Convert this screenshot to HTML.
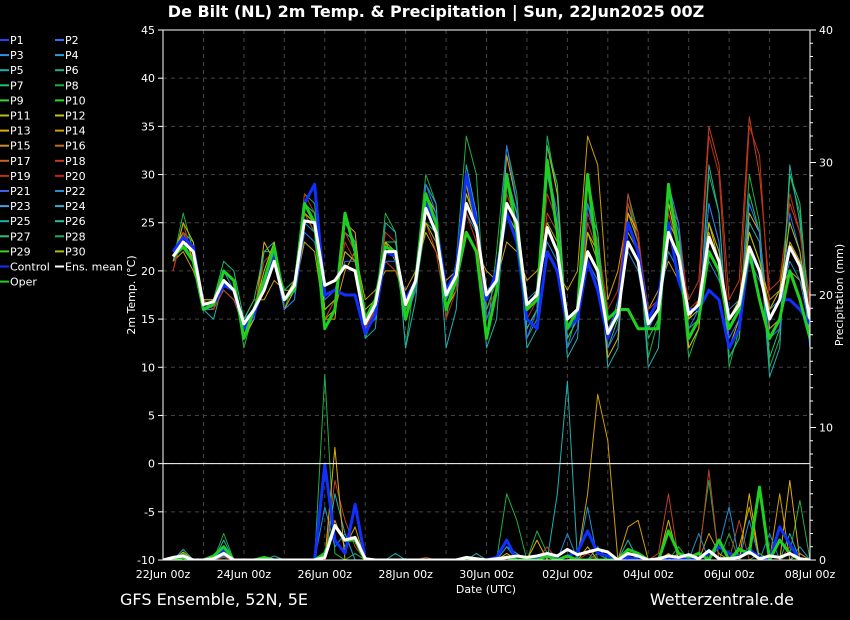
<!DOCTYPE html>
<html><head><meta charset="utf-8"><style>
html,body{margin:0;padding:0;background:#000;}
svg{display:block;font-family:"DejaVu Sans","Liberation Sans",sans-serif;}
</style></head><body>
<svg id="chart" width="850" height="620" viewBox="0 0 850 620">
<text x="436" y="17" fill="#fff" font-size="16" font-weight="bold" text-anchor="middle">De Bilt  (NL)  2m Temp. &amp; Precipitation | Sun, 22Jun2025 00Z</text>
<text x="120" y="605" fill="#fff" font-size="16">GFS Ensemble, 52N, 5E</text>
<text x="794" y="605" fill="#fff" font-size="16" text-anchor="end">Wetterzentrale.de</text>
<text x="486" y="593" fill="#fff" font-size="11" text-anchor="middle">Date (UTC)</text>
<text transform="translate(135,295) rotate(-90)" fill="#fff" font-size="11" text-anchor="middle">2m Temp. (°C)</text>
<text transform="translate(843,295) rotate(-90)" fill="#fff" font-size="11" text-anchor="middle">Precipitation (mm)</text>
<defs><clipPath id="pc"><rect x="163" y="30" width="647" height="530"/></clipPath></defs>
<g id="grid"></g>
<g id="series" clip-path="url(#pc)"></g>
<g id="axes"></g>
<g id="legend"></g>
</svg>
<script>
const dayLabels=["22Jun 00z","24Jun 00z","26Jun 00z","28Jun 00z","30Jun 00z","02Jul 00z","04Jul 00z","06Jul 00z","08Jul 00z"];
const tempTicks=[45,40,35,30,25,20,15,10,5,0,-5,-10];
const precTicks=[40,30,20,10,0];
const legendNames=["P1","P2","P3","P4","P5","P6","P7","P8","P9","P10","P11","P12","P13","P14","P15","P16","P17","P18","P19","P20","P21","P22","P23","P24","P25","P26","P27","P28","P29","P30","Control","Ens. mean","Oper"];
const legendColors=["#2040ff","#3070ff","#3090e0","#2aa0d0","#20b0b0","#20b090","#20c070","#20b040","#40d040","#20e020","#c0c000","#d0c000","#e0b000","#d0a000","#d09020","#c07010","#d06020","#c04020","#c03010","#c02020","#4060e0","#2090d0","#40a0e0","#30b0d0","#20b0b0","#20c0a0","#30c070","#20b050","#40d020","#b0c000","#1030ff","#ffffff","#20d020"];
const memberColors=["#20b040","#d0a000","#20b0b0","#c04020","#2090d0","#e0b000","#c03010","#20c070","#3070ff","#b0c000"];
const meanT=[null,21.5,23,22,16.5,16.8,19,18,14.5,16,18,21,17,18.5,25.2,25,18.5,19,20.5,20,14.5,16.5,22,22,16.5,19,26.5,24,17.5,19.5,27,24.5,17.5,19,27,25,16.5,17.5,24.5,22,15,16,22,20,13.5,15.5,23,21,14.5,16,24,21.5,15.5,16.5,23.5,21,15,16.5,22.5,20,15,17,22.5,20.5,15];
const ctrlT=[null,22,23.5,22.5,16,16.5,18.5,18,14,15.5,18.5,22,17,18,27,29,17.5,18,17.5,17.5,13.5,15.5,22,21.5,17,19,27,25,18,20,30,25,17,20,26,23,15,14,22,20,14,15,21,18,13,16,25,22,15,17,25,19,16,16,18,17,12,14,22,20,15,17,17,16,14.5];
const operT=[null,21.5,22.5,21,16,16.5,20,19,13,16,19,22.5,17,18,27,25,14,16,26,22,15,17,22.5,22,15,19,28,25,16,19,24,22,13,18,30,24,16,17,31.5,24,14,16,30,21,15,16,16,14,14,14,29,22,13,15,22,20,14,16,22,17,13,15,20,17,13];
const memA=[null,21,26,22,16,17,20,19,12,16,20,23,16,19,28,27,14,16,26,22,13,16,26,24,12,20,30,27,15,21,34,30,13,22,33,28,13,15,34,28,12,16,30,24,13,17,28,24,11,15,27,22,11,14,30,26,10,14,30,25,10,13,30,26,12];
const memB=[null,21,22,20,17,17,18,17,15,17,17,19,18,18,23,22,15,16,20,22,17,18,20,20,18,20,24,22,19,20,24,22,20,19,23,22,19,20,22,20,18,20,34,31,17,20,26,23,16,18,21,19,15,17,24,21,15,17,24,21,17,18,20,19,16];
const memC=[null,22,24,23,16,15,19,18,13,15,22,23,16,17,26,24,15,17,24,23,13,14,25,24,12,17,29,27,12,16,31,26,12,15,29,26,12,14,30,25,11,13,27,23,10,12,27,23,10,12,27,25,12,14,31,26,11,13,25,23,9,12,31,25,12];
const memD=[null,20,25,21,16,16,18,17,14,16,19,21,17,19,26,24,16,17,24,22,15,17,21,20,17,19,25,22,16,18,26,23,17,19,29,25,16,17,26,24,14,16,25,22,15,16,28,23,16,17,26,22,17,19,35,31,17,19,36,30,18,19,27,24,17];
const memE=[null,22,23,22,16,16,20,18,15,16,18,21,17,18,25,24,17,18,22,21,15,17,22,22,17,19,27,24,18,19,26,24,18,19,26,24,17,18,23,21,15,16,21,19,14,16,22,20,14,16,22,20,15,16,21,19,16,17,21,19,16,17,21,19,14];
const memF=[null,22,24,21,17,16,19,18,13,15,23,21,16,18,26,25,15,15,25,24,14,16,23,21,15,18,28,26,16,18,29,24,15,18,32,27,14,16,33,28,13,15,24,22,11,13,26,24,14,16,27,22,12,14,25,21,12,15,26,24,14,15,23,21,13];
const memG=[null,20,24,22,17,16,19,18,14,16,21,22,17,18,28,26,15,17,23,21,14,16,24,23,16,19,28,25,15,18,26,23,16,18,28,25,15,17,28,25,14,16,26,23,16,18,27,24,15,17,28,25,16,17,34,30,14,16,35,32,16,18,28,24,16];
const memH=[null,22,23,21,16,17,21,20,15,17,22,22,18,19,27,26,16,17,25,23,15,16,23,23,16,18,25,24,17,19,28,25,16,19,30,26,14,16,33,29,13,15,27,24,12,15,25,22,13,15,28,24,14,15,27,23,11,13,28,24,11,14,30,27,14];
const memI=[null,21,23,22,16,17,19,18,14,15,19,21,16,17,24,23,17,18,21,21,14,15,21,21,15,18,29,26,17,20,30,26,15,18,33,27,13,16,31,26,12,14,27,22,12,14,25,22,14,16,29,25,14,16,27,23,13,15,27,24,13,14,26,22,12];
const memJ=[null,21,25,23,17,17,20,19,14,16,20,23,17,19,26,25,16,17,22,21,16,17,23,22,17,19,25,23,18,20,28,25,17,19,26,24,16,18,25,23,14,15,24,21,15,16,24,22,15,17,25,23,15,16,25,22,15,17,24,21,16,18,25,22,15];
const memberT=[memA,memB,memC,memD,memE,memF,memG,memH,memI,memJ];
const meanP=[0,0.2,0.3,0,0,0.1,0.5,0,0,0,0,0,0,0,0,0,0.2,2.6,1.5,1.7,0.1,0,0,0,0,0,0,0,0,0,0.2,0.1,0,0.1,0.2,0.3,0.2,0.3,0.5,0.3,0.8,0.4,0.6,0.8,0.6,0,0.5,0.3,0,0.1,0.3,0.2,0.4,0.1,0.7,0.1,0.1,0.2,0.6,0.1,0.3,0.2,0.5,0.1,0];
const ctrlP=[0,0,0.3,0,0,0,0.8,0,0,0,0,0,0,0,0,0,7.2,1.5,0.5,4.2,0.1,0,0,0,0,0,0,0,0,0,0,0,0,0.2,1.5,0,0,0.2,0.5,0,0.3,0.6,2.2,0.5,0.3,0,0.2,0,0,0,0.2,0.1,0,0.1,0.5,1,0.5,0.2,0.8,0.2,0,2.5,1.2,0,0];
const operP=[0,0,0.2,0,0,0.3,1,0,0,0,0.2,0,0,0,0,0,0.5,2.6,1.5,1.5,0,0,0,0,0,0,0,0,0,0,0,0,0,0,0.2,0,0,0,0.3,0,0.3,0,0,0,0,0,0.8,0.5,0,0,2.2,0.5,0.2,0.5,0,1.5,0,0.8,0.5,5.5,0,1.5,0.5,0,0];
const pA=[0,0,0.5,0,0,0,2,0,0,0,0,0,0,0,0,0,14,0.5,0,0.5,0,0,0,0,0,0,0,0,0,0,0,0,0,0,5,3,0,2.2,0.5,0,0,0,0,0.5,0,0,0,0.3,0,0,0,1,0,0.5,6,0,2,0,0,0.5,0,0,0.5,4.5,0];
const pB=[0,0,0.2,0,0,0,0.5,0,0,0,0,0,0,0,0,0,0,3,1,2.5,0,0,0,0,0,0,0,0,0,0,0,0,0,0,0.3,0,0,0,0,0,0,0.2,5,12.5,9,0,2.5,3,0,0,0.5,0,0,0,2,0.5,0,1,4,0,0,5,0,0.5,0];
const pC=[0,0,0.8,0,0,0,1.5,0,0,0,0,0.3,0,0,0,0,0,5,2,0,0,0,0,0.5,0,0,0,0,0,0,0,0.5,0,0,1,0.5,0,0,0,5,13.5,0,0,1,0,0,1.5,0,0,0,0,0.5,0,0,0.8,0,0,0,1,0,0,0,2,0,0];
const pD=[0,0,0.3,0,0,0,0.2,0,0,0,0,0,0,0,0,0,0,6,3,1,0,0,0,0,0,0,0.2,0,0,0,0,0,0,0,0,0,0,0,1,0,0,0,0.5,0,0,0,0,0,0,0.5,5,0,0,0,6.8,0,0,3,0,0,0,0,1,0,0];
const pE=[0,0,0.4,0,0,0,0.3,0,0,0,0.2,0,0,0,0,0,4,1,2,0,0,0,0,0,0,0,0,0,0,0,0,0,0,0,1,0,0,0,0,0,2,0,4,0,0,0,0,0,0,0,0,0,0,2,0,1,4,0,3,0,2,0,0,1,0];
const pF=[0,0,0.6,0,0,0,0.4,0,0,0,0,0,0,0,0,0,0,8.5,0,0,0,0,0,0,0,0,0,0,0,0,0,0,0,0,0.5,0,0,1.5,0,0,0,0,1,0,0,0,0,0,0,0,3,0,0,0,0,0,0,0,5,0,0,0,6,0,0];
const memberP=[pA,pB,pC,pD,pE,pF];

const NS="http://www.w3.org/2000/svg";
const X0=163,X1=810,Y0=30,Y1=560;
const nSteps=64;
function xs(i){return X0+(X1-X0)*i/nSteps;}
function yT(t){return Y1-(t+10)*(Y1-Y0)/55;}
function yP(p){return Y1-p*(Y1-Y0)/40;}
function mk(tag,attrs,parent){const e=document.createElementNS(NS,tag);for(const k in attrs)e.setAttribute(k,attrs[k]);parent.appendChild(e);return e;}
const grid=document.getElementById('grid'),series=document.getElementById('series'),axes=document.getElementById('axes'),legend=document.getElementById('legend');

tempTicks.forEach(t=>{
  const l=mk('line',{x1:X0,x2:X1,y1:yT(t),y2:yT(t),stroke:'#444','stroke-dasharray':'4,4','stroke-width':1},grid);
  
  
  const tk=mk('line',{x1:X0-5,x2:X0,y1:yT(t),y2:yT(t),stroke:'#fff'},axes);
  
  
  const tx=mk('text',{x:X0-8,y:yT(t)+4,fill:'#fff','font-size':11,'text-anchor':'end'},axes);
  tx.textContent=t;
  
  
});
for(let d=1;d<16;d++){
  const x=X0+(X1-X0)*d/16;
  const l=mk('line',{x1:x,x2:x,y1:Y0,y2:Y1,stroke:'#444','stroke-dasharray':'4,4'},grid);
  
  
}
dayLabels.forEach((s,i)=>{
  const x=X0+(X1-X0)*i/8;
  const tx=mk('text',{x:x,y:578,fill:'#fff','font-size':11,'text-anchor':'middle'},axes);
  tx.textContent=s;
  
  
});
for(let p=0;p<=40;p++){
  const len=p%10===0?6:3;
  const tk=mk('line',{x1:X1,x2:X1+len,y1:yP(p),y2:yP(p),stroke:'#fff'},axes);
  
  
}
precTicks.forEach(p=>{
  const tx=mk('text',{x:X1+9,y:yP(p)+4,fill:'#fff','font-size':11},axes);
  tx.textContent=p;
  
  
});
const frame=mk('rect',{x:X0,y:Y0,width:X1-X0,height:Y1-Y0,fill:'none',stroke:'#fff'},axes);


const zl=mk('line',{x1:X0,x2:X1,y1:yT(0),y2:yT(0),stroke:'#fff'},axes);



function path(arr,yf,color,w,name){
  let d='';let pen=false;
  arr.forEach((v,i)=>{if(v===null){pen=false;return;}d+=(pen?'L':'M')+xs(i).toFixed(1)+','+yf(v).toFixed(1);pen=true;});
  const p=mk('path',{d:d,fill:'none',stroke:color,'stroke-width':w,'stroke-linejoin':'round'},series);
  
  
}
memberT.forEach((a,k)=>path(a,yT,memberColors[k],1,'member-temp-line'));
memberP.forEach((a,k)=>path(a,yP,memberColors[k],1,'member-precip-line'));
path(ctrlT,yT,'#1030ff',3,'control-temp-line');
path(ctrlP,yP,'#1030ff',3,'control-precip-line');
path(operT,yT,'#20d020',3,'oper-temp-line');
path(operP,yP,'#20d020',3,'oper-precip-line');
path(meanT,yT,'#ffffff',3,'mean-temp-line');
path(meanP,yP,'#ffffff',3,'mean-precip-line');

legendNames.forEach((n,i)=>{
  const col=i%2,row=Math.floor(i/2);
  const x=col?55:0,y=40+row*15.1;
  const l=mk('line',{x1:x,x2:x+9,y1:y,y2:y,stroke:legendColors[i],'stroke-width':2},legend);
  
  
  const t=mk('text',{x:x+10,y:y+4,fill:'#fff','font-size':11},legend);
  t.textContent=n;
  
  
});
</script>
</body></html>
